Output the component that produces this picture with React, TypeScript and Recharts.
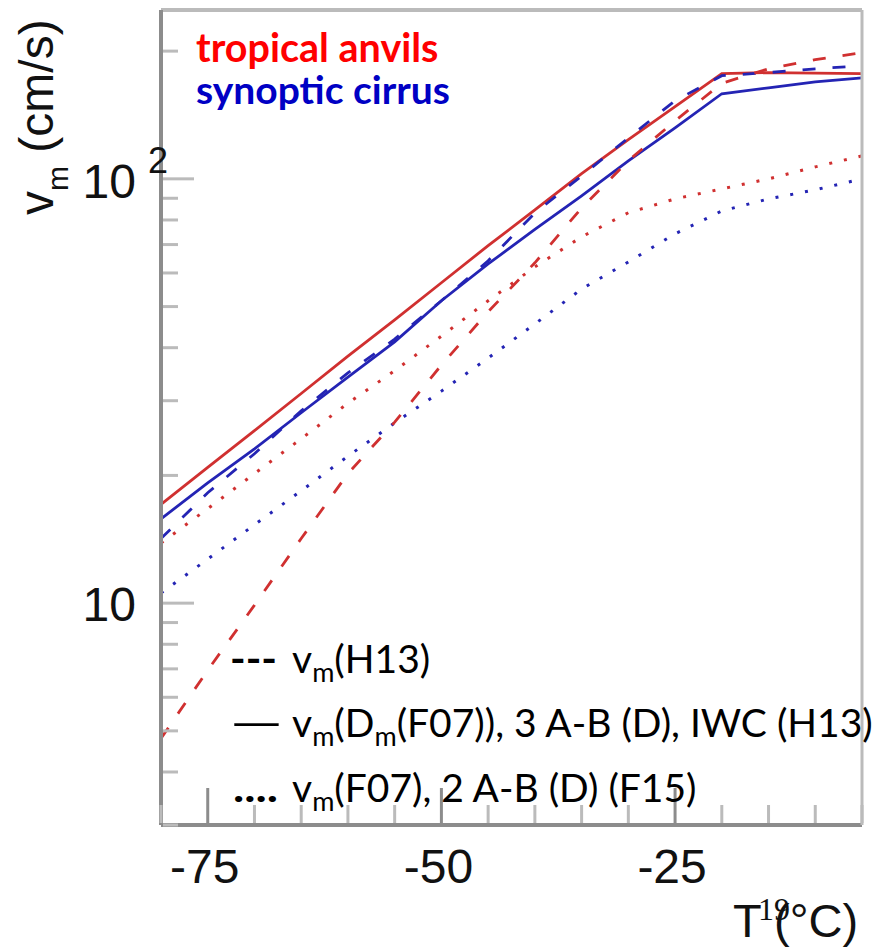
import { LineChart, Line, XAxis, YAxis } from "recharts";

// temperature grid (deg C)
const temps = [-80, -75, -70, -65, -60, -55, -50, -45, -40, -35, -30, -25, -20, -15, -10, -5];

// v_m (cm/s)
const anvilSolid = [17.1, 20.9, 25.5, 31.2, 38.2, 46.5, 56.9, 69.6, 84.5, 102.9, 123.7, 148, 177, 178, 177.5, 177];
const cirrusSolid = [15.8, 19.2, 23.1, 28.1, 34.1, 41.3, 51.6, 63.0, 76.0, 91.2, 110.3, 131.9, 158.7, 163.9, 169.3, 173];
const anvilDashed = [4.8, 6.95, 9.89, 14.2, 20.2, 26.7, 36.4, 48.6, 63.4, 85.4, 110.3, 137, 168, 181.7, 190.9, 198.3];
const cirrusDashed = [14.2, 18.2, 22.5, 28.4, 34.9, 41.9, 51.6, 64.1, 83.1, 101.6, 124.9, 152.8, 175, 178, 181.7, 184.7];
const anvilDotted = [13.85, 16.7, 20.2, 24.4, 29.6, 35.3, 42.6, 51.6, 62.0, 73.0, 83.2, 89.7, 94.7, 100, 106.7, 113.3];
const cirrusDotted = [10.56, 12.7, 15.3, 18.4, 22.2, 26.6, 31.6, 37.8, 45.5, 55.0, 63.7, 74.2, 84.0, 89.7, 94.2, 100];

const xTicks = [-80, -75, -70, -65, -60, -55, -50, -45, -40, -35, -30, -25, -20, -15, -10, -5];
const xMajor = [-75, -50, -25];
const yTicks = [3, 4, 5, 6, 7, 8, 9, 10, 20, 30, 40, 50, 60, 70, 80, 90, 100, 200];
const yMajor = [10, 100];

const data = temps.map((T, i) => ({
  T,
  rs: anvilSolid[i],
  bs: cirrusSolid[i],
  rd: anvilDashed[i],
  bd: cirrusDashed[i],
  rdot: anvilDotted[i],
  bdot: cirrusDotted[i],
}));

const RED = "#d03030";
const BLUE = "#2424b4";
const numFont = "'Liberation Sans', Arial, sans-serif";
const textFont = "Lato, 'Open Sans', sans-serif";

const XTick = (props: any) => {
  const { x, y, payload } = props;
  const major = xMajor.includes(payload.value);
  return (
    <g>
      <line
        x1={x}
        x2={x}
        y1={y - 2}
        y2={y - (major ? 37 : 20)}
        stroke={major ? "#8c8c8c" : "#bbbbbb"}
        strokeWidth={3}
      />
      {major && (
        <text x={x - 3} y={y + 58} textAnchor="middle" fontSize={48} fontFamily={numFont} fill="#111">
          {payload.value}
        </text>
      )}
    </g>
  );
};

const YTick = (props: any) => {
  const { x, y, payload } = props;
  const major = yMajor.includes(payload.value);
  return (
    <g>
      <line x1={x + 2} x2={x + (major ? 33 : 17)} y1={y} y2={y} stroke="#bbbbbb" strokeWidth={3} />
      {payload.value === 10 && (
        <text x={x - 25} y={y + 18} textAnchor="end" fontSize={48} fontFamily={numFont} fill="#111">
          10
        </text>
      )}
      {payload.value === 100 && (
        <g>
          <text x={x - 25} y={y + 19} textAnchor="end" fontSize={48} fontFamily={numFont} fill="#111">
            10
          </text>
          <text x={x - 13} y={y - 6} fontSize={36} fontFamily={numFont} fill="#111">
            2
          </text>
        </g>
      )}
    </g>
  );
};

const lineProps = { dot: false, activeDot: false, isAnimationActive: false, type: "linear" as const };

export default function App() {
  return (
    <div style={{ position: "absolute", left: 0, top: 0, width: 881, height: 948, background: "#fff" }}>
      <LineChart width={881} height={948} data={data} margin={{ top: 9, right: 18, left: 0, bottom: 0 }}>
        <XAxis
          dataKey="T"
          type="number"
          domain={[-80, -5]}
          ticks={xTicks}
          interval={0}
          height={123}
          tickSize={0}
          tickMargin={0}
          tickLine={false}
          tick={<XTick />}
          axisLine={{ stroke: "#8c8c8c", strokeWidth: 4 }}
        />
        <XAxis
          xAxisId="top"
          orientation="top"
          dataKey="T"
          type="number"
          domain={[-80, -5]}
          height={1}
          tick={false}
          tickLine={false}
          axisLine={{ stroke: "#bbbbbb", strokeWidth: 4 }}
        />
        <YAxis
          scale="log"
          domain={[3, 250]}
          allowDataOverflow
          ticks={yTicks}
          interval={0}
          width={161}
          tickSize={0}
          tickMargin={0}
          tickLine={false}
          tick={<YTick />}
          axisLine={{ stroke: "#8c8c8c", strokeWidth: 4 }}
        />
        <YAxis
          yAxisId="right"
          orientation="right"
          scale="log"
          domain={[3, 250]}
          allowDataOverflow
          width={1}
          tick={false}
          tickLine={false}
          axisLine={{ stroke: "#bbbbbb", strokeWidth: 3 }}
        />
        <Line dataKey="bdot" stroke={BLUE} strokeWidth={3} strokeDasharray="3 12" {...lineProps} />
        <Line dataKey="rdot" stroke={RED} strokeWidth={3} strokeDasharray="3 12" {...lineProps} />
        <Line dataKey="bs" stroke={BLUE} strokeWidth={2.8} {...lineProps} />
        <Line dataKey="rs" stroke={RED} strokeWidth={2.8} {...lineProps} />
        <Line dataKey="bd" stroke={BLUE} strokeWidth={2.8} strokeDasharray="13 17" {...lineProps} />
        <Line dataKey="rd" stroke={RED} strokeWidth={2.8} strokeDasharray="13 17" {...lineProps} />
      </LineChart>

      <svg width={881} height={948} style={{ position: "absolute", left: 0, top: 0, pointerEvents: "none" }}>
        {/* y axis title */}
        <text transform="translate(53,215) rotate(-90)" fontSize={48} fontFamily={numFont} fill="#111">
          v
          <tspan fontSize={30} dy={15}>m</tspan>
          <tspan dy={-15}> (cm/s)</tspan>
        </text>

        {/* x axis title */}
        <text x={733} y={937} fontSize={47} fontFamily={numFont} fill="#111">T</text>
        <text x={774} y={937} fontSize={47} fontFamily={numFont} fill="#111">(°C)</text>
        <text x={758} y={920} fontSize={32} fontFamily="'Liberation Serif', serif" fill="#111">19</text>

        {/* cloud type legend */}
        <text x={196} y={62} fontSize={39.5} fontWeight="bold" fontFamily={textFont} fill="#ff0000">
          tropical anvils
        </text>
        <text x={196} y={104} fontSize={39} fontWeight="bold" fontFamily={textFont} fill="#0000c4">
          synoptic cirrus
        </text>

        {/* line style legend */}
        <text x={230} y={673} fontSize={40} fontWeight="bold" fontFamily={textFont} textLength={47} lengthAdjust="spacingAndGlyphs">
          ---
        </text>
        <text x={292} y={673} fontSize={39} fontFamily={textFont}>
          v<tspan fontSize={27} dy={9}>m</tspan>
          <tspan dy={-9}>(H13)</tspan>
        </text>

        <text x={230} y={737} fontSize={40} fontFamily={textFont} textLength={53} lengthAdjust="spacingAndGlyphs">
          —
        </text>
        <text x={292} y={737} fontSize={39} fontFamily={textFont}>
          v<tspan fontSize={27} dy={9}>m</tspan>
          <tspan dy={-9}>(D</tspan>
          <tspan fontSize={27} dy={9}>m</tspan>
          <tspan dy={-9}>(F07)), 3 A-B (D), IWC (H13)</tspan>
        </text>

        <text x={233} y={802} fontSize={40} fontWeight="bold" fontFamily={textFont} textLength={45} lengthAdjust="spacingAndGlyphs">
          ....
        </text>
        <text x={292} y={802} fontSize={39} fontFamily={textFont}>
          v<tspan fontSize={27} dy={9}>m</tspan>
          <tspan dy={-9}>(F07), 2 A-B (D) (F15)</tspan>
        </text>
      </svg>
    </div>
  );
}
